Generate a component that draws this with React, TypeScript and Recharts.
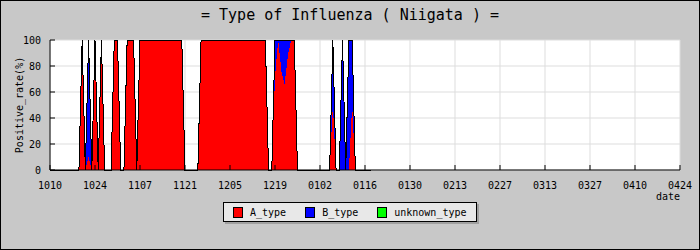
import React from 'react';
import { AreaChart, Area, XAxis, YAxis, CartesianGrid } from 'recharts';

const mono = '"DejaVu Sans Mono", monospace';

// x axis: days counted from 10/10, a tick every 14 days
const dayTicks = [0, 14, 28, 42, 56, 70, 84, 98, 112, 126, 140, 154, 168, 182, 196];
const tickLabels = ['1010', '1024', '1107', '1121', '1205', '1219', '0102', '0116', '0130', '0213', '0227', '0313', '0327', '0410', '0424'];
const rateTicks = [0, 20, 40, 60, 80, 100];
const rateMinorTicks = [10, 30, 50, 70, 90];

// daily positive rate (%), day 0 = 10/10
const aType = [
  0, 0, 0, 0, 0, 0, 0, 0, 0, 0,
  100, 0, 10, 0, 100, 0, 100, 0, 0, 0,
  100, 100, 0, 0, 100, 100, 100, 0, 100, 100,
  100, 100, 100, 100, 100, 100, 100, 100, 100, 100,
  100, 100, 0, 0, 0, 0, 0, 100, 100, 100,
  100, 100, 100, 100, 100, 100, 100, 100, 100, 100,
  100, 100, 100, 100, 100, 100, 100, 100, 0, 0,
  72, 100, 76, 66, 88, 100, 100, 0, 0, 0,
  0, 0, 0, 0, 0, 0, 0, 0, 50, 0,
  0, 0, 0, 0, 50, 0, 0, 0, 0, 0,
  0,
];
const bType = [
  0, 0, 0, 0, 0, 0, 0, 0, 0, 0,
  0, 0, 90, 0, 0, 0, 0, 0, 0, 0,
  0, 0, 0, 0, 0, 0, 0, 0, 0, 0,
  0, 0, 0, 0, 0, 0, 0, 0, 0, 0,
  0, 0, 0, 0, 0, 0, 0, 0, 0, 0,
  0, 0, 0, 0, 0, 0, 0, 0, 0, 0,
  0, 0, 0, 0, 0, 0, 0, 0, 0, 0,
  28, 0, 24, 34, 12, 0, 0, 0, 0, 0,
  0, 0, 0, 0, 0, 0, 0, 0, 50, 0,
  0, 100, 0, 100, 50, 0, 0, 0, 0, 0,
  0,
];
const unknownType = [
  0, 0, 0, 0, 0, 0, 0, 0, 0, 0,
  0, 0, 0, 0, 0, 0, 0, 0, 0, 0,
  0, 0, 0, 0, 0, 0, 0, 0, 0, 0,
  0, 0, 0, 0, 0, 0, 0, 0, 0, 0,
  0, 0, 0, 0, 0, 0, 0, 0, 0, 0,
  0, 0, 0, 0, 0, 0, 0, 0, 0, 0,
  0, 0, 0, 0, 0, 0, 0, 0, 0, 0,
  0, 0, 0, 0, 0, 0, 0, 0, 0, 0,
  0, 0, 0, 0, 0, 0, 0, 0, 0, 0,
  0, 0, 0, 0, 0, 0, 0, 0, 0, 0,
  0,
];

const seriesNames = ['A_type', 'B_type', 'unknown_type'];
const seriesColors = ['#ff0000', '#0000ff', '#00ff00'];

const data = aType.map((a, i) => ({ day: i, a, b: bType[i], unknown: unknownType[i] }));

const App = () => {
  return (
    <div style={{ position: 'absolute', left: 0, top: 0, width: 700, height: 250, background: '#c8c8c8', fontFamily: mono }}>
      <div style={{ position: 'absolute', left: 0, top: 8, width: 700, textAlign: 'center', fontSize: 15, lineHeight: '15px', color: '#000' }}>
        = Type of Influenza ( Niigata ) =
      </div>
      <AreaChart
        width={700}
        height={250}
        data={data}
        margin={{ top: 40, right: 20, bottom: 50, left: 0 }}
        style={{ position: 'absolute', left: 0, top: 0, fontFamily: mono }}
      >
        <CartesianGrid stroke="#dddddd" fill="#ffffff" fillOpacity={1} />
        <XAxis
          dataKey="day"
          type="number"
          domain={[0, 196]}
          ticks={dayTicks}
          interval={0}
          tickFormatter={(v) => tickLabels[dayTicks.indexOf(v)]}
          height={30}
          tickSize={-5}
          tickMargin={17}
          axisLine={{ stroke: '#000' }}
          tickLine={{ stroke: '#000' }}
          tick={{ fill: '#000', fontSize: 10, fontFamily: mono }}
          label={{ value: 'date', position: 'insideBottomRight', offset: 0, fill: '#000', fontSize: 10, fontFamily: mono }}
        />
        <YAxis
          yAxisId="minor"
          mirror
          domain={[0, 100]}
          ticks={rateMinorTicks}
          interval={0}
          tickSize={3}
          tickFormatter={() => ''}
          axisLine={false}
          tickLine={{ stroke: '#000' }}
        />
        <YAxis
          domain={[0, 100]}
          ticks={rateTicks}
          interval={0}
          width={50}
          tickSize={-5}
          tickMargin={14}
          axisLine={{ stroke: '#000' }}
          tickLine={{ stroke: '#000' }}
          tick={{ fill: '#000', fontSize: 10, fontFamily: mono }}
          label={{ value: 'Positive_rate(%)', angle: -90, position: 'insideLeft', offset: 19, fill: '#000', fontSize: 10, fontFamily: mono, style: { textAnchor: 'middle' } }}
        />
        <Area type="linear" dataKey="a" stackId="t" fill={seriesColors[0]} fillOpacity={1} stroke="none" shapeRendering="crispEdges" isAnimationActive={false} activeDot={false} />
        <Area type="linear" dataKey="b" stackId="t" fill={seriesColors[1]} fillOpacity={1} stroke="none" shapeRendering="crispEdges" isAnimationActive={false} activeDot={false} />
        <Area type="linear" dataKey="unknown" stackId="t" fill={seriesColors[2]} fillOpacity={1} stroke="#000" strokeWidth={1} shapeRendering="crispEdges" isAnimationActive={false} activeDot={false} />
      </AreaChart>
      <div
        style={{
          position: 'absolute', left: 223, top: 202, width: 254, height: 20, boxSizing: 'border-box',
          border: '1px solid #000', background: '#e8e8e8', boxShadow: '2px 2px 0 #a0a0a0',
          display: 'flex', alignItems: 'center', paddingLeft: 9, fontSize: 10, color: '#000',
        }}
      >
        {seriesNames.map((name, i) => (
          <div key={name} style={{ display: 'flex', alignItems: 'center', marginRight: 19 }}>
            <span style={{ display: 'inline-block', width: 10, height: 11, boxSizing: 'border-box', border: '1px solid #000', background: seriesColors[i], marginRight: 7 }} />
            <span>{name}</span>
          </div>
        ))}
      </div>
      <div style={{ position: 'absolute', left: 0, top: 0, width: 700, height: 250, boxSizing: 'border-box', border: '1px solid #000', pointerEvents: 'none' }} />
    </div>
  );
};

export default App;
